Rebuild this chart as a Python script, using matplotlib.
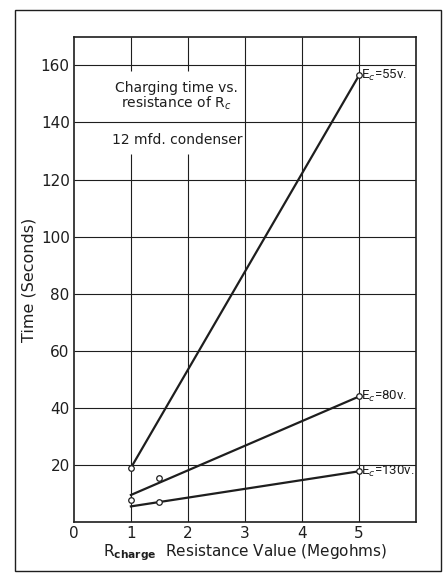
import matplotlib
matplotlib.use("Agg")
import matplotlib.pyplot as plt
from matplotlib.patches import Rectangle

plt.rcParams["font.family"] = ["DejaVu Sans"]
plt.rcParams["mathtext.fontset"] = "dejavusans"

# fitted lines (drawn between x = 1 and x = 5)
line_x = [1, 5]
line_55v = [19, 156.5]
line_80v = [9.5, 44]
line_130v = [5.5, 17.8]

# measured points (open circles)
pts_55v_x = [1, 5]
pts_55v_y = [19, 156.5]
pts_80v_x = [1, 1.5, 5]
pts_80v_y = [7.8, 15.3, 44]
pts_130v_x = [1.5, 5]
pts_130v_y = [7.2, 17.8]

labels = ["E$_c$=55v.", "E$_c$=80v.", "E$_c$=130v."]
x_ticks = [0, 1, 2, 3, 4, 5]
y_ticks = [20, 40, 60, 80, 100, 120, 140, 160]

ink = "#1e1e1e"

fig = plt.figure(figsize=(4.45, 5.75), dpi=100)
ax = fig.add_axes([0.166, 0.092, 0.769, 0.844])
ax.set_xlim(0, 6)
ax.set_ylim(0, 170)

# grid drawn by hand so the lines behind the caption can be left out
for x in [1, 2, 3, 4, 5]:
    if x in (1, 2):
        ax.vlines(x, 0, 129, color=ink, lw=0.8, zorder=1)
        ax.vlines(x, 158, 170, color=ink, lw=0.8, zorder=1)
    else:
        ax.vlines(x, 0, 170, color=ink, lw=0.8, zorder=1)
for y in y_ticks:
    ax.hlines(y, 0, 6, color=ink, lw=0.8, zorder=1)

series = [
    (line_55v, pts_55v_x, pts_55v_y),
    (line_80v, pts_80v_x, pts_80v_y),
    (line_130v, pts_130v_x, pts_130v_y),
]
for (ly, px, py), lab in zip(series, labels):
    ax.plot(line_x, ly, color=ink, lw=1.6, zorder=2)
    ax.plot(px, py, "o", ms=4, mfc="white", mec=ink, mew=0.9, zorder=3)
    ax.text(px[-1] + 0.04, py[-1], lab, fontsize=9.5, ha="left", va="center",
            color=ink, zorder=4, family=["Roboto", "DejaVu Sans"])

ax.text(1.8, 149, "Charging time vs.\nresistance of R$_c$", fontsize=10,
        ha="center", va="center", color=ink, linespacing=1.0)
ax.text(1.82, 134, "12 mfd. condenser", fontsize=10, ha="center",
        va="center", color=ink)

ax.set_xticks(x_ticks)
ax.set_yticks(y_ticks)
ax.tick_params(length=0, labelsize=11, colors=ink, pad=3)
for s in ax.spines.values():
    s.set_linewidth(1.2)
    s.set_color(ink)

ax.set_ylabel("Time (Seconds)", fontsize=11.5, color=ink, labelpad=3)
ax.set_xlabel(r"R$_{\mathbf{charge}}$  Resistance Value (Megohms)",
              fontsize=11, color=ink, labelpad=1)

# outer frame around the whole figure
fig.patches.append(Rectangle((0.034, 0.007), 0.957, 0.976,
                             transform=fig.transFigure, fill=False,
                             lw=1.0, edgecolor=ink))

fig.savefig("out.png", dpi=100)
